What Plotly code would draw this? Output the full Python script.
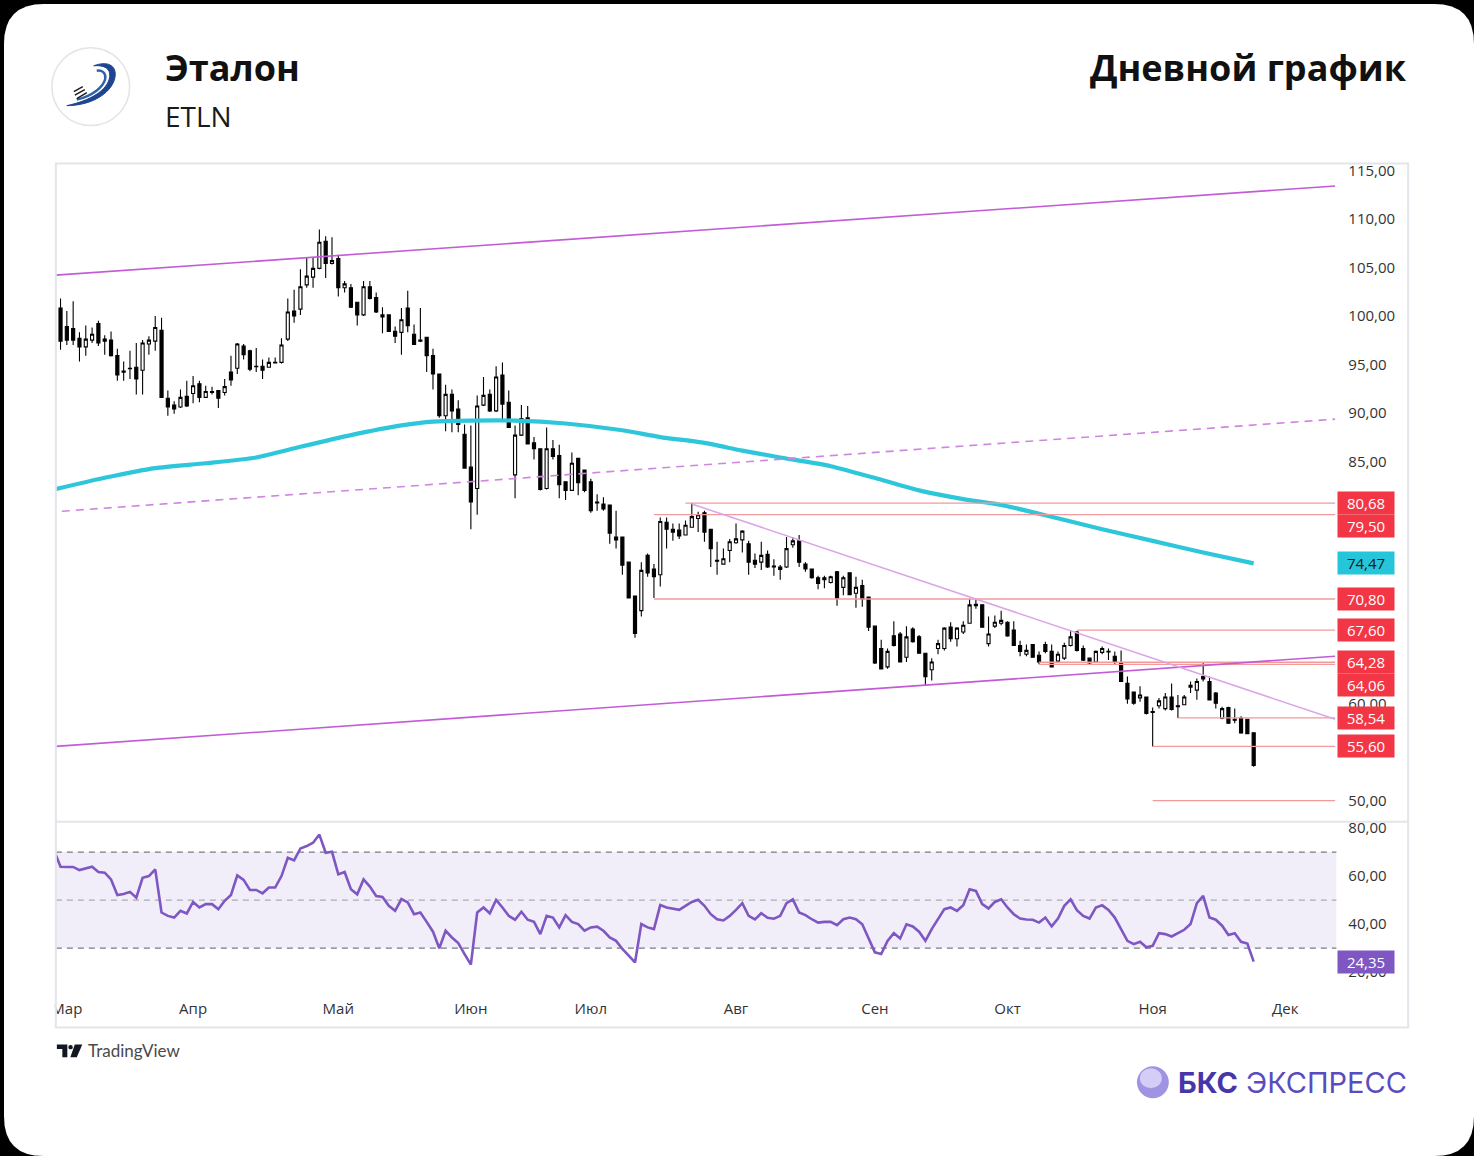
import plotly.graph_objects as go

W, H = 1474, 1156

# ------------------------------------------------------------------ data
opens = [100.8, 98.9, 98.7, 97.7, 96.8, 97.5, 99.2, 97.6, 97.5, 95.9,
         94.3, 94.6, 94.7, 94.4, 97.1, 97.4, 98.5, 91.5, 90.8, 90.6,
         91.7, 92.0, 93.0, 91.6, 92.2, 92.3, 92.1, 94.2, 94.6, 96.9,
         96.4, 94.8, 94.8, 94.7, 95.2, 95.2, 97.6, 100.5, 100.7, 103.2,
         104.0, 104.9, 107.7, 105.4, 105.9, 102.9, 102.9, 101.4, 100.1, 103.0,
         101.9, 99.9, 100.1, 98.4, 98.3, 100.8, 98.1, 97.5, 97.8, 95.9,
         94.0, 89.7, 91.9, 90.4, 87.8, 84.4, 82.2, 90.8, 91.9, 90.2,
         93.9, 91.1, 83.6, 87.7, 89.5, 86.9, 86.3, 82.2, 86.3, 85.6,
         82.9, 82.0, 85.3, 84.1, 82.9, 80.8, 80.6, 80.5, 77.2, 77.2,
         74.6, 71.1, 69.6, 75.3, 73.9, 73.3, 78.7, 78.0, 77.9, 77.4,
         78.2, 79.1, 79.7, 78.0, 74.8, 74.4, 75.8, 76.6, 76.9, 76.5,
         74.8, 74.6, 75.4, 74.2, 74.1, 74.1, 76.4, 76.8, 74.4, 73.9,
         73.0, 73.0, 72.5, 73.6, 72.0, 73.5, 71.4, 72.2, 71.0, 68.0,
         65.7, 63.8, 67.0, 67.2, 64.8, 67.7, 66.9, 65.2, 63.5, 65.7,
         65.7, 67.9, 66.7, 67.4, 68.3, 70.1, 70.2, 66.2, 68.0, 68.3,
         68.4, 67.6, 66.0, 65.1, 66.1, 65.0, 66.1, 65.4, 64.4, 64.7,
         66.0, 67.4, 65.7, 64.7, 64.3, 65.3, 65.4, 64.9, 64.2, 62.1,
         61.2, 60.6, 60.7, 59.2, 59.8, 59.5, 60.7, 59.8, 59.9, 61.7,
         61.4, 62.8, 62.3, 61.1, 58.5, 59.6, 58.4, 58.5, 58.4, 57.0]
highs = [101.8, 100.5, 101.5, 98.3, 99.0, 98.8, 99.5, 98.0, 98.4, 96.6,
         95.3, 96.4, 97.2, 97.5, 97.9, 100.0, 99.8, 92.3, 91.2, 92.4,
         93.3, 93.8, 93.3, 92.8, 92.7, 92.3, 93.5, 95.9, 97.2, 97.1,
         96.5, 96.7, 95.5, 95.7, 95.7, 97.7, 101.8, 102.7, 104.8, 106.0,
         106.0, 108.9, 108.2, 108.1, 106.3, 103.6, 103.3, 101.4, 103.6, 103.6,
         102.4, 100.9, 100.1, 98.9, 100.8, 102.6, 99.1, 100.8, 97.8, 96.6,
         94.0, 92.9, 92.4, 91.3, 88.8, 88.7, 91.8, 93.7, 92.4, 94.8,
         95.2, 92.3, 88.7, 90.8, 90.7, 87.5, 86.3, 88.5, 87.2, 86.7,
         82.9, 85.9, 85.3, 84.1, 83.2, 81.6, 81.3, 80.5, 79.9, 77.2,
         74.6, 71.1, 74.6, 75.5, 74.4, 79.2, 79.2, 78.6, 78.6, 78.9,
         80.7, 79.8, 79.9, 78.0, 76.7, 76.0, 77.0, 78.6, 77.9, 76.8,
         75.5, 76.7, 75.8, 74.9, 74.3, 77.2, 77.2, 77.4, 74.6, 73.9,
         73.2, 73.2, 73.2, 73.7, 73.2, 73.5, 73.1, 72.8, 71.0, 68.0,
         66.6, 65.7, 68.5, 67.4, 68.0, 67.9, 67.1, 65.2, 64.7, 66.6,
         67.9, 68.4, 67.9, 68.5, 70.8, 70.8, 70.2, 69.0, 69.1, 69.6,
         68.5, 68.5, 66.5, 66.1, 66.1, 65.4, 66.4, 66.1, 65.4, 66.3,
         67.6, 67.5, 66.0, 64.7, 65.5, 65.9, 65.7, 65.4, 65.5, 62.8,
         61.2, 61.8, 60.7, 59.6, 60.6, 61.1, 62.1, 60.9, 60.9, 62.3,
         62.6, 64.3, 62.8, 61.2, 59.7, 59.7, 59.5, 58.7, 58.4, 57.0]
lows = [96.5, 97.0, 97.0, 95.3, 95.9, 97.2, 96.9, 96.0, 95.8, 93.3,
        93.3, 93.5, 91.9, 91.9, 96.0, 96.4, 91.6, 89.7, 89.9, 90.5,
        90.6, 91.0, 91.1, 91.6, 91.9, 90.5, 91.8, 92.8, 94.0, 95.5,
        94.3, 94.2, 93.5, 94.7, 95.1, 95.1, 97.4, 99.3, 100.1, 102.9,
        102.9, 104.8, 103.9, 105.3, 102.0, 102.4, 100.8, 99.0, 100.0, 101.7,
        100.3, 98.2, 98.4, 97.2, 96.0, 98.3, 97.0, 97.3, 94.2, 92.4,
        89.5, 88.1, 88.0, 88.0, 84.3, 78.0, 79.5, 90.7, 90.1, 90.1,
        89.3, 88.5, 81.2, 87.6, 86.8, 85.2, 82.0, 82.1, 85.2, 81.2,
        81.0, 82.0, 81.5, 81.8, 79.7, 79.9, 79.9, 76.5, 76.0, 73.3,
        70.9, 66.8, 69.0, 73.1, 70.9, 72.1, 76.0, 76.8, 77.0, 77.4,
        78.2, 77.7, 76.7, 74.1, 73.3, 74.4, 74.6, 76.5, 75.6, 73.3,
        74.0, 73.8, 74.0, 73.2, 72.8, 74.0, 76.1, 74.1, 73.6, 72.9,
        71.8, 71.9, 72.4, 70.1, 71.2, 71.2, 69.9, 70.0, 67.5, 64.1,
        63.6, 63.6, 65.9, 64.3, 64.3, 66.3, 65.2, 61.9, 62.4, 65.1,
        65.5, 66.4, 65.9, 67.2, 68.3, 69.8, 67.9, 65.9, 67.8, 68.1,
        66.9, 66.0, 64.9, 64.9, 64.8, 64.06, 65.2, 63.8, 64.2, 64.5,
        65.9, 65.4, 64.4, 64.06, 64.3, 65.1, 64.5, 64.0, 62.3, 60.0,
        59.9, 60.2, 58.9, 55.6, 59.5, 59.3, 59.3, 58.54, 59.9, 61.1,
        60.4, 62.3, 60.4, 59.5, 58.4, 57.9, 58.0, 56.9, 56.9, 53.5]
closes = [97.4, 97.5, 97.5, 96.8, 97.6, 98.1, 97.2, 97.4, 95.9, 93.9,
          94.2, 94.55, 93.5, 97.2, 97.5, 98.8, 91.6, 90.6, 90.4, 91.6,
          90.7, 92.8, 91.6, 92.2, 92.1, 91.5, 92.7, 93.4, 97.1, 96.0,
          94.5, 94.75, 94.4, 95.2, 95.15, 97.0, 100.4, 100.0, 103.0, 104.1,
          104.9, 107.6, 105.4, 105.7, 102.9, 103.3, 100.9, 100.1, 103.0, 101.8,
          100.4, 100.1, 98.4, 97.9, 99.6, 99.0, 97.05, 97.4, 95.9, 94.0,
          89.7, 91.9, 90.2, 88.8, 84.3, 80.8, 90.7, 91.8, 90.2, 93.7,
          90.9, 88.5, 87.7, 89.4, 86.8, 86.3, 82.1, 86.3, 85.5, 82.6,
          82.0, 84.8, 82.8, 82.0, 79.9, 80.7, 80.1, 77.6, 76.9, 74.3,
          70.9, 67.25, 73.75, 73.5, 73.1, 78.8, 78.0, 77.7, 77.3, 78.4,
          79.3, 79.5, 77.7, 76.0, 74.7, 74.95, 76.7, 77.0, 77.8, 74.6,
          74.4, 75.3, 74.1, 74.1, 73.85, 76.0, 76.8, 74.6, 73.9, 73.0,
          72.4, 72.8, 73.1, 70.9, 73.0, 71.25, 72.0, 70.8, 67.9, 64.2,
          63.6, 65.4, 66.0, 64.3, 66.9, 66.4, 65.2, 62.8, 64.3, 66.2,
          67.8, 66.7, 67.8, 68.1, 70.2, 70.25, 67.9, 67.2, 68.4, 68.6,
          67.0, 66.0, 65.4, 65.5, 64.8, 64.3, 65.4, 63.8, 65.1, 66.0,
          66.9, 65.5, 64.5, 64.2, 65.4, 65.7, 65.35, 64.3, 62.3, 60.5,
          60.05, 60.9, 59.0, 59.1, 60.3, 60.7, 59.4, 59.7, 60.7, 61.9,
          62.3, 62.55, 60.4, 60.05, 59.5, 58.0, 58.3, 57.0, 56.9, 53.64]
bar_idx = list(range(len(closes)))

rsi_idx = list(range(-1, 190))
rsi_vals = [70.5,
            63.9, 63.8, 63.8, 62.5, 63.1, 63.9, 61.7, 61.4, 58.6, 52.1,
            52.5, 53.4, 51.0, 59.3, 60.0, 62.8, 44.8, 43.4, 42.7, 45.5,
            44.4, 49.2, 46.9, 48.3, 48.3, 46.2, 49.7, 52.1, 60.3, 58.4,
            54.2, 54.2, 52.8, 55.2, 55.2, 60.0, 67.6, 66.5, 71.5, 72.5,
            73.9, 77.3, 69.7, 70.1, 60.7, 61.7, 54.5, 52.4, 58.6, 55.6,
            51.7, 51.3, 47.6, 45.5, 50.4, 49.0, 44.1, 44.8, 40.9, 36.8,
            29.9, 37.2, 34.4, 32.1, 27.5, 23.1, 44.8, 46.9, 44.5, 50.1,
            46.9, 43.4, 41.8, 45.1, 41.8, 40.9, 35.8, 43.4, 42.7, 38.6,
            43.7, 40.9, 40.0, 37.2, 38.6, 38.9, 37.2, 34.4, 33.0, 29.6,
            26.8, 24.0, 40.0, 38.6, 37.9, 47.9, 46.9, 46.5, 45.9, 47.6,
            49.2, 50.1, 47.6, 44.1, 42.0, 41.5, 43.4, 45.9, 48.7, 43.4,
            41.9, 44.5, 42.6, 42.2, 43.4, 48.7, 50.3, 44.8, 43.7, 42.0,
            40.6, 40.9, 40.9, 39.5, 42.0, 42.7, 42.0, 39.9, 34.4, 28.2,
            27.5, 33.0, 36.2, 34.0, 39.9, 39.0, 36.8, 33.0, 37.9, 42.0,
            46.2, 46.9, 45.5, 47.8, 54.5, 53.8, 48.3, 46.5, 49.2, 50.3,
            46.9, 44.1, 42.3, 41.9, 41.8, 40.6, 42.7, 39.0, 42.3, 47.6,
            50.3, 45.8, 43.4, 42.3, 46.9, 47.8, 45.9, 42.7, 37.9, 33.0,
            31.6, 32.6, 30.3, 30.9, 36.2, 35.8, 34.8, 36.2, 37.6, 40.0,
            48.7, 51.7, 42.7, 41.8, 39.3, 35.4, 36.2, 32.6, 31.9, 24.35]

ma_idx = [-1, 7, 15, 23, 31, 38, 46, 54, 59, 65, 72, 80, 89, 95, 102,
          108, 114, 122, 130, 136, 143, 149, 155, 165, 173, 181, 189]
ma_vals = [82.1, 83.3, 84.3, 84.8, 85.4, 86.5, 87.7, 88.7, 89.1, 89.2, 89.2,
           88.9, 88.2, 87.5, 86.9, 86.1, 85.4, 84.5, 83.1, 82.0, 81.1, 80.5,
           79.6, 78.0, 76.8, 75.6, 74.47]
ma_last = 74.47

month_idx = [1, 21, 44, 65, 84, 107, 129, 150, 173, 194]
month_lbl = ["Мар", "Апр", "Май", "Июн", "Июл", "Авг", "Сен", "Окт", "Ноя", "Дек"]
# price scale ticks that stay visible (80, 70 and 55 are fully covered by level labels)
price_ticks = [50, 60, 65, 75, 85, 90, 95, 100, 105, 110, 115]
rsi_ticks = [20, 40, 60, 80]
rsi_last = 24.35

upper_x, upper_y = [-0.74, 201.9], [104.2, 113.4]
lower_x, lower_y = [-0.74, 201.9], [55.6, 64.9]
mid_x, mid_y = [0.2, 201.9], [79.85, 89.35]
down_x, down_y = [100.0, 201.9], [80.6, 58.4]

levels = [80.68, 79.50, 70.80, 67.60, 64.28, 64.06, 58.54, 55.60, 50.00]
level_start = [99, 94, 94, 161, 155, 155, 177, 173, 173]
level_end = 201.9
level_labeled = [True, True, True, True, True, True, True, True, False]
label_shift = {79.50: -11, 64.06: -21}

X_RANGE = [-0.74, 202.1]
Y_RANGE = [47.89, 115.72]
RSI_RANGE = [11.02, 82.88]


# ------------------------------------------------------------------ helpers (layout only)
def px(x):
    return x / W


def py(y):
    return 1 - y / H


def path(cmds):
    out = []
    for c in cmds:
        if isinstance(c, str):
            out.append(c)
        else:
            out.append(f"{px(c[0]):.5f},{py(c[1]):.5f}")
    return " ".join(out)


def fmt(v):
    return f"{v:.2f}".replace(".", ",")


FONT = "Open Sans"
RED = "#f23645"
LINE_RED = "#f39a9a"

fig = go.Figure()

# moving average
fig.add_trace(go.Scatter(x=ma_idx, y=ma_vals, mode="lines",
                         line=dict(color="#2ec6da", width=4.2, shape="spline", smoothing=0.6),
                         hoverinfo="skip", xaxis="x", yaxis="y"))

# horizontal levels
for lv, st in zip(levels, level_start):
    fig.add_trace(go.Scatter(x=[st, level_end], y=[lv, lv], mode="lines",
                             line=dict(color=LINE_RED, width=1.3),
                             hoverinfo="skip", xaxis="x", yaxis="y"))

# channel / trend lines
fig.add_trace(go.Scatter(x=upper_x, y=upper_y, mode="lines",
                         line=dict(color="#c35bd6", width=1.6), hoverinfo="skip"))
fig.add_trace(go.Scatter(x=lower_x, y=lower_y, mode="lines",
                         line=dict(color="#c35bd6", width=1.6), hoverinfo="skip"))
fig.add_trace(go.Scatter(x=mid_x, y=mid_y, mode="lines",
                         line=dict(color="#cf86e0", width=1.6, dash="8px,6px"), hoverinfo="skip"))
fig.add_trace(go.Scatter(x=down_x, y=down_y, mode="lines",
                         line=dict(color="#dca4e8", width=1.5), hoverinfo="skip"))

# candles
fig.add_trace(go.Candlestick(
    x=bar_idx, open=opens, high=highs, low=lows, close=closes,
    increasing=dict(line=dict(color="#000000", width=1.1), fillcolor="#ffffff"),
    decreasing=dict(line=dict(color="#000000", width=1.1), fillcolor="#000000"),
    whiskerwidth=0, hoverinfo="skip", xaxis="x", yaxis="y"))

# RSI
fig.add_trace(go.Scatter(x=rsi_idx, y=rsi_vals, mode="lines",
                         line=dict(color="#7e57c2", width=2.6),
                         hoverinfo="skip", xaxis="x2", yaxis="y2"))

x_dom = [px(52), px(1336)]
tickfont = dict(family=FONT, size=15, color="#333333")

fig.update_layout(
    width=W, height=H,
    margin=dict(l=0, r=0, t=0, b=0),
    paper_bgcolor="#000000",
    plot_bgcolor="rgba(0,0,0,0)",
    showlegend=False,
    separators=", ",
    xaxis=dict(domain=x_dom, range=X_RANGE, anchor="y", showticklabels=False,
               showgrid=False, zeroline=False, showline=False, ticks="",
               rangeslider=dict(visible=False), fixedrange=True),
    yaxis=dict(domain=[py(820), py(160)], range=Y_RANGE, side="right",
               tickvals=price_ticks, tickformat=".2f", showgrid=False,
               zeroline=False, showline=False, ticks="", tickfont=tickfont,
               ticklabelstandoff=11),
    xaxis2=dict(domain=x_dom, range=X_RANGE, anchor="y2", matches="x",
                tickvals=month_idx, ticktext=month_lbl, showgrid=False,
                zeroline=False, showline=False, ticks="", tickfont=tickfont,
                ticklabelstandoff=4),
    yaxis2=dict(domain=[py(993), py(820)], range=RSI_RANGE, side="right",
                tickvals=rsi_ticks, tickformat=".2f", showgrid=False,
                zeroline=False, showline=False, ticks="", tickfont=tickfont,
                ticklabelstandoff=11),
)

shapes = []
# white card with rounded corners
R = 40
shapes.append(dict(type="path", xref="paper", yref="paper", layer="below",
                   path=path(["M", (R, 0), "L", (W - R, 0), "Q", (W, 0), (W, R),
                              "L", (W, H - R), "Q", (W, H), (W - R, H),
                              "L", (R, H), "Q", (0, H), (0, H - R),
                              "L", (0, R), "Q", (0, 0), (R, 0), "Z"]),
                   fillcolor="#ffffff", line=dict(width=0)))
# RSI band and guides
shapes.append(dict(type="rect", xref="x2 domain", yref="y2", x0=0, x1=1, y0=30, y1=70,
                   fillcolor="rgba(126,87,194,0.10)", line=dict(width=0), layer="below"))
for lvl, col in [(70, "#787b86"), (50, "#a9acb4"), (30, "#787b86")]:
    shapes.append(dict(type="line", xref="x2 domain", yref="y2", x0=0, x1=1, y0=lvl, y1=lvl,
                       line=dict(color=col, width=1.2, dash="6px,5px"), layer="below"))
# masks for clipped labels
shapes.append(dict(type="rect", xref="paper", yref="paper", x0=px(20), x1=px(51),
                   y0=py(1022), y1=py(995), fillcolor="#ffffff", line=dict(width=0), layer="above"))
shapes.append(dict(type="rect", xref="paper", yref="paper", x0=px(1337), x1=px(1407),
                   y0=py(821), y1=py(808), fillcolor="#ffffff", line=dict(width=0), layer="above"))
# chart frame + pane separator
shapes.append(dict(type="rect", xref="paper", yref="paper", x0=px(52), x1=px(1408),
                   y0=py(1027), y1=py(160), line=dict(color="#e3e5ea", width=2), layer="above"))
shapes.append(dict(type="line", xref="paper", yref="paper", x0=px(52), x1=px(1408),
                   y0=py(820.5), y1=py(820.5), line=dict(color="#e3e5ea", width=2), layer="above"))
# Etalon logo
shapes.append(dict(type="circle", xref="paper", yref="paper", x0=px(48), x1=px(126),
                   y0=py(122), y1=py(44), fillcolor="#ffffff",
                   line=dict(color="#e4e4e4", width=1.5), layer="above"))
shapes.append(dict(type="path", xref="paper", yref="paper", layer="above",
                   path=path(["M", (63, 102), "C", (89, 102), (110, 88), (111.5, 72),
                              "C", (112.5, 61), (103, 57), (90, 62),
                              "C", (101, 61), (107, 65), (106, 73),
                              "C", (104, 87), (86, 97), (63, 102), "Z"]),
                   fillcolor="#1d4590", line=dict(color="#1d4590", width=1)))
shapes.append(dict(type="path", xref="paper", yref="paper", layer="above",
                   path=path(["M", (73, 96), "C", (89, 92), (100, 83), (101.5, 75),
                              "C", (102.5, 69), (98, 66), (93, 67)]),
                   line=dict(color="#2d62b0", width=2.4)))
for (a, b) in [((70, 88), (79, 83)), ((71, 91.5), (81, 86)), ((73, 95), (83, 89))]:
    shapes.append(dict(type="line", xref="paper", yref="paper", layer="above",
                       x0=px(a[0]), y0=py(a[1]), x1=px(b[0]), y1=py(b[1]),
                       line=dict(color="#1a1a1a", width=1.4)))
# TradingView mark
shapes.append(dict(type="path", xref="paper", yref="paper", layer="above",
                   path=path(["M", (53, 1044), "L", (63.5, 1044), "L", (63.5, 1057),
                              "L", (58.5, 1057), "L", (58.5, 1048.5), "L", (53, 1048.5), "Z"]),
                   fillcolor="#131722", line=dict(width=0)))
shapes.append(dict(type="circle", xref="paper", yref="paper", layer="above",
                   x0=px(64.5), x1=px(69), y0=py(1049), y1=py(1044.5),
                   fillcolor="#131722", line=dict(width=0)))
shapes.append(dict(type="path", xref="paper", yref="paper", layer="above",
                   path=path(["M", (71, 1044), "L", (78.5, 1044), "L", (73, 1057),
                              "L", (66.5, 1057), "Z"]),
                   fillcolor="#131722", line=dict(width=0)))
# BCS sphere
shapes.append(dict(type="circle", xref="paper", yref="paper", layer="above",
                   x0=px(1136), x1=px(1168), y0=py(1098), y1=py(1066),
                   fillcolor="#9f94e3", line=dict(width=0)))
shapes.append(dict(type="circle", xref="paper", yref="paper", layer="above",
                   x0=px(1139), x1=px(1161), y0=py(1088), y1=py(1068),
                   fillcolor="#d9d4f7", line=dict(width=0), opacity=0.9))
fig.update_layout(shapes=shapes)

ann = []
ann.append(dict(text="<b>Эталон</b>", x=px(159), y=py(64), xref="paper", yref="paper",
                xanchor="left", yanchor="middle", showarrow=False,
                font=dict(family=FONT, size=36, color="#111111")))
ann.append(dict(text="ETLN", x=px(159), y=py(112), xref="paper", yref="paper",
                xanchor="left", yanchor="middle", showarrow=False,
                font=dict(family=FONT, size=28, color="#1a1a1a")))
ann.append(dict(text="<b>Дневной график</b>", x=px(1409), y=py(64), xref="paper", yref="paper",
                xanchor="right", yanchor="middle", showarrow=False,
                font=dict(family=FONT, size=36, color="#111111")))
ann.append(dict(text="TradingView", x=px(82), y=py(1050), xref="paper", yref="paper",
                xanchor="left", yanchor="middle", showarrow=False,
                font=dict(family="Lato", size=17, color="#4a4a4a")))
ann.append(dict(text="<b>БКС</b> <span style='color:#5a4cc0'>ЭКСПРЕСС</span>",
                x=px(1409), y=py(1082), xref="paper", yref="paper",
                xanchor="right", yanchor="middle", showarrow=False,
                font=dict(family="Inter", size=29, color="#4636a8")))

# price labels on the scale
for lv, lab in zip(levels, level_labeled):
    if not lab:
        continue
    ann.append(dict(text=fmt(lv), x=px(1366), y=lv, xref="paper", yref="y",
                    xanchor="center", yanchor="middle", showarrow=False,
                    yshift=label_shift.get(lv, 0), bgcolor=RED, width=52, height=18,
                    borderpad=2, font=dict(family=FONT, size=15, color="#ffffff")))
ann.append(dict(text=fmt(ma_last), x=px(1366), y=ma_last, xref="paper", yref="y",
                xanchor="center", yanchor="middle", showarrow=False,
                bgcolor="#26c6da", width=52, height=18, borderpad=2,
                font=dict(family=FONT, size=15, color="#131722")))
ann.append(dict(text=fmt(rsi_last), x=px(1366), y=rsi_last, xref="paper", yref="y2",
                xanchor="center", yanchor="middle", showarrow=False,
                bgcolor="#7e57c2", width=52, height=18, borderpad=2,
                font=dict(family=FONT, size=15, color="#ffffff")))
fig.update_layout(annotations=ann)

fig.write_html("out.html")
